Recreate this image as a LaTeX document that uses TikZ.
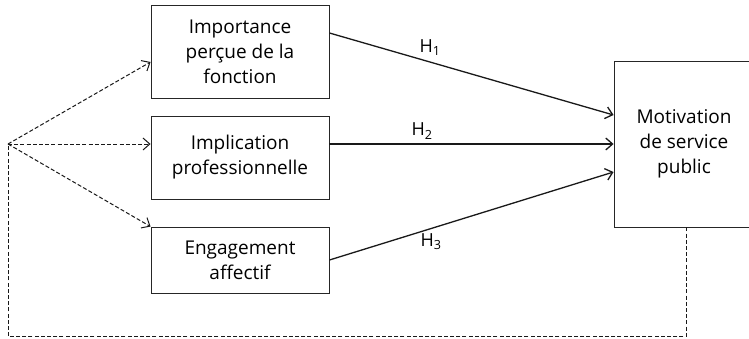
\documentclass[tikz,border=0pt]{standalone}
\usepackage{fontspec}
\setmainfont{Open Sans}
\usepackage{tikz}
\usetikzlibrary{arrows.meta,calc}
\tikzset{
  construct/.style={draw=black!85, line width=0.9pt, fill=white, align=center,
    font=\fontsize{19}{25}\selectfont, inner sep=2pt},
  flow/.style={draw=black!90, line width=1.3pt, -{Straight Barb[length=2.4mm,width=4.2mm]}},
  ctrl/.style={draw=black!90, line width=1pt, dash pattern=on 4pt off 2.2pt,
    -{Straight Barb[length=2.4mm,width=4.2mm]}},
  hyp/.style={font=\fontsize{18}{20}\selectfont, inner sep=1pt}
}

\begin{document}
\begin{tikzpicture}[x=1pt,y=-1pt]
    \useasboundingbox (0,0) rectangle (749,338);
    \node[construct, minimum width=178pt, minimum height=93pt] (imp) at (240,51.5)
      {Importance\\perçue de la\\fonction};
    \node[construct, minimum width=178pt, minimum height=83pt] (impl) at (240,157.5)
      {Implication\\professionnelle};
    \node[construct, minimum width=178pt, minimum height=66pt] (eng) at (240,260)
      {Engagement\\affectif};
    \node[construct, minimum width=140pt, minimum height=166pt] (msp) at (684,144)
      {Motivation\\de service\\public};
    \coordinate (ctl) at (8,144);
    \coordinate (low) at (8,336.5);

    % hypotheses
    \draw[flow] ([yshift=18.5pt]imp.east) -- ([yshift=29pt]msp.west);
    \draw[flow] ([yshift=13.5pt]impl.east) -- (msp.west);
    \draw[flow] (eng.east) -- ([yshift=-28pt]msp.west);
    \node[hyp] (h1) at (430,48) {H\textsubscript{1}};
    \node[hyp] (h2) at (422,131) {H\textsubscript{2}};
    \node[hyp] (h3) at (431,242) {H\textsubscript{3}};

    % controle
    \draw[ctrl] (ctl) -- ([yshift=-10.5pt]imp.west);
    \draw[ctrl] (ctl) -- ([yshift=13.5pt]impl.west);
    \draw[ctrl] (ctl) -- (eng.north west);
    \draw[draw=black!90, line width=1pt, dash pattern=on 4pt off 2.2pt]
      ([xshift=2pt]msp.south) |- (low) -- (ctl);
\end{tikzpicture}
\end{document}
